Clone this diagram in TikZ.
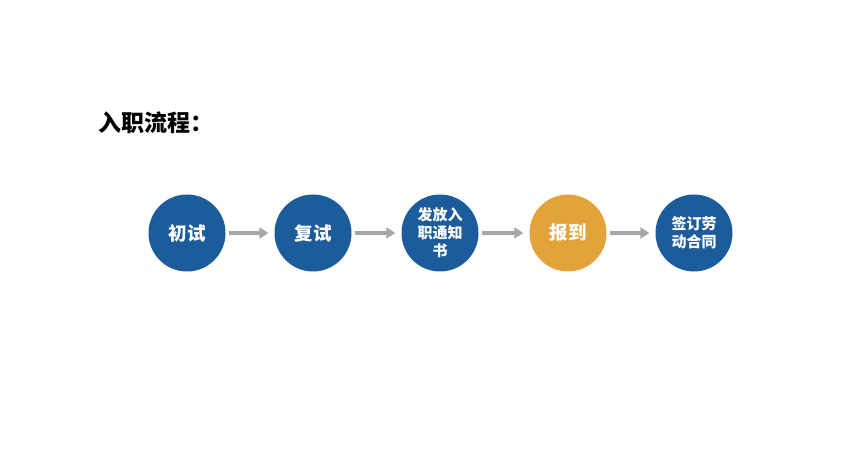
\documentclass[tikz,border=0pt]{standalone}
\usepackage{fontspec}
\newfontfamily\cjk{Noto Sans CJK SC}
\usetikzlibrary{arrows.meta}
\definecolor{stepblue}{RGB}{28,92,154}
\definecolor{steporange}{RGB}{226,164,58}
\definecolor{arrowgray}{RGB}{166,166,166}
\tikzset{
  stepcircle/.style={circle, fill=stepblue, minimum size=77bp, inner sep=0pt,
    text=white, font=\cjk\bfseries\fontsize{18.5bp}{21bp}\selectfont, align=center},
  smalltext/.style={font=\cjk\bfseries\fontsize{15bp}{18bp}\selectfont},
  flow/.style={arrowgray, line width=3.5bp, -{Triangle[length=9bp,width=11bp]},
    shorten <=3bp, shorten >=6bp}
}
\begin{document}
\begin{tikzpicture}[x=1bp, y=-1bp]
	\useasboundingbox (0,0) rectangle (864,470);

	\node[anchor=west, font=\cjk\bfseries\fontsize{23bp}{26bp}\selectfont] (title) at (95,123) {入职流程：};

	\node[stepcircle] (first) at (187,233) {初试};
	\node[stepcircle] (second) at (313,233) {复试};
	\node[stepcircle, smalltext] (offer) at (440,233) {发放入\\职通知\\书};
	\node[stepcircle, fill=steporange] (report) at (568,233) {报到};
	\node[stepcircle, smalltext] (contract) at (694,233) {签订劳\\动合同};

	\draw[flow] (first) -- (second);
	\draw[flow] (second) -- (offer);
	\draw[flow] (offer) -- (report);
	\draw[flow] (report) -- (contract);

\end{tikzpicture}
\end{document}
